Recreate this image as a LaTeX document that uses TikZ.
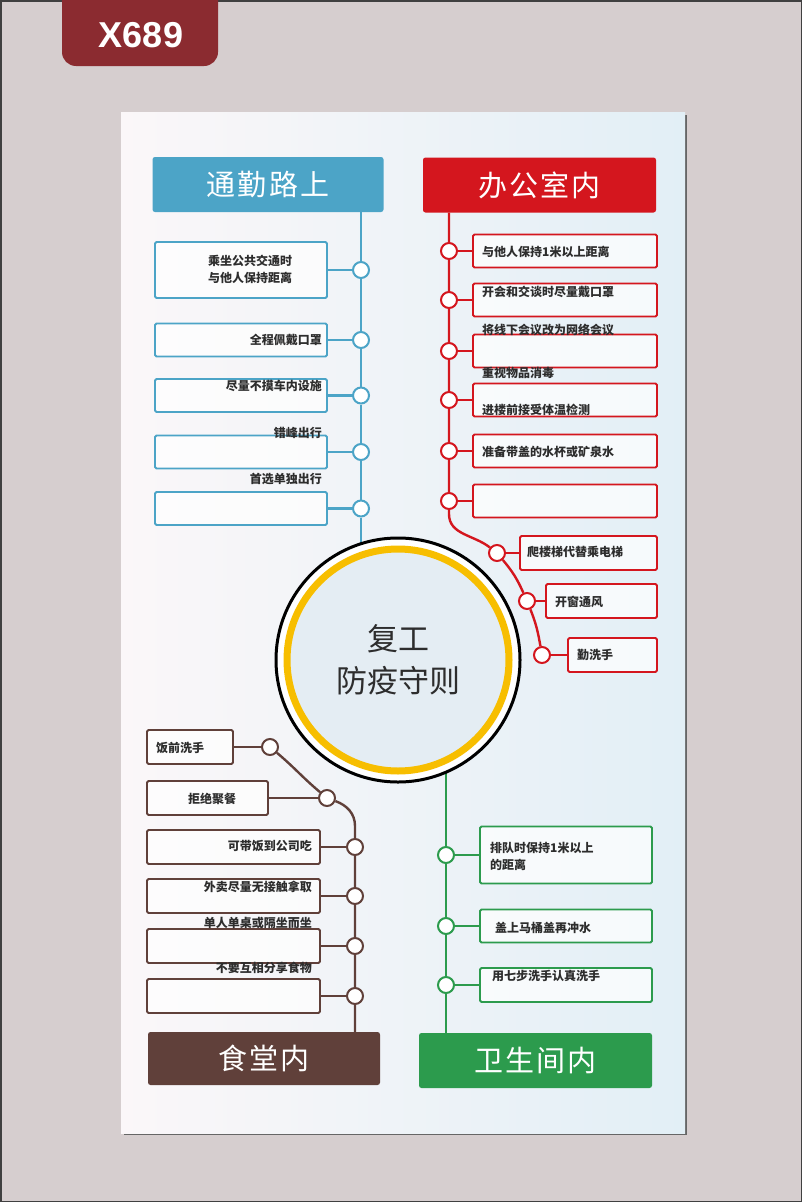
\documentclass[tikz,border=0pt]{standalone}
\usepackage{fontspec}
\setmainfont{Noto Sans}
\newfontfamily\selofont{Liberation Sans}
\newfontfamily\cjk{Noto Sans CJK SC}
\newfontfamily\cjkhead[LetterSpace=8]{Noto Sans CJK SC}
\definecolor{fundo}{RGB}{214,206,207}
\definecolor{selo}{RGB}{139,43,48}
\definecolor{azul}{RGB}{76,164,199}
\definecolor{verm}{RGB}{212,22,30}
\definecolor{marrom}{RGB}{96,64,58}
\definecolor{verde}{RGB}{44,155,77}
\definecolor{ouro}{RGB}{247,190,0}
\definecolor{miolo}{RGB}{228,237,243}
\definecolor{texto}{RGB}{45,45,45}
\definecolor{papelA}{RGB}{251,247,249}
\definecolor{papelB}{RGB}{226,239,246}

\begin{document}
\begin{tikzpicture}[x=1pt, y=-1pt,
  caixa/.style={draw=#1, line width=1.8, fill=white, fill opacity=0.7, rounded corners=1.5pt, inner sep=0, minimum height=33},
  ponto/.style={circle, draw=#1, line width=2, fill=white, minimum size=16, inner sep=0},
  titulo/.style={fill=#1, rounded corners=2.5pt, inner sep=0, minimum height=55, minimum width=232, text=white, font=\cjkhead\fontsize{29}{32}\selectfont},
  item/.style={font=\cjk\bfseries\fontsize{12}{17}\selectfont, text=texto, inner sep=0},
  via/.style={draw=#1, line width=2.4}]
  \useasboundingbox (0,0) rectangle (802,1202);

  % Fundo, moldura e selo do codigo
  \fill[fundo] (0,0) rectangle (802,1202);
  \draw[black!75, line width=1.5] (0.75,0.75) rectangle (801.25,1201.25);
  \fill[selo, rounded corners=14pt] (62,-20) rectangle (218,66);
  \node[font=\selofont\bfseries\fontsize{36}{40}\selectfont, text=white] (codigo) at (141,35) {X689};

  % Cartaz
  \fill[black!60] (124,115) rectangle (687,1135);
  \shade[left color=papelA, right color=papelB] (121,112) rectangle (685,1133);

  % Titulos dos quatro blocos
  \node[titulo=azul, minimum width=231] (titA) at (268,184.5) {通勤路上};
  \node[titulo=verm, minimum width=233] (titB) at (539.5,185) {办公室内};
  \node[titulo=marrom, minimum height=53] (titC) at (264,1058.5) {食堂内};
  \node[titulo=verde, minimum width=233] (titD) at (535.5,1060.5) {卫生间内};

  % Bloco azul: caixa / ponto
  \foreach \yy/\hh [count=\i] in {270/56, 340/33, 395.5/33, 452/33, 508.5/33} {
    \node[caixa=azul, minimum width=172, minimum height=\hh] (ca\i) at (241,\yy) {};
    \node[ponto=azul] (pa\i) at (361,\yy) {};
    \draw[via=azul] (ca\i) -- (pa\i);
  }
  \coordinate (fimA) at (361,552);
  \draw[via=azul] (titA.south -| pa1) -- (pa1) -- (pa2) -- (pa3) -- (pa4) -- (pa5) -- (fimA);
  \node[item, align=center] (ta1) at (250,269) {乘坐公共交通时\\与他人保持距离};
  \foreach \yy/\t [count=\i from 2] in {340/全程佩戴口罩, 386/尽量不摸车内设施, 433/错峰出行, 479/首选单独出行}
    \node[item, anchor=east] (ta\i) at (322,\yy) {\t};

  % Bloco vermelho: seis caixas na vertical, tres no arco
  \foreach \yy [count=\i] in {251,300,351,400,451,501} {
    \node[caixa=verm, minimum width=184] (cr\i) at (565,\yy) {};
    \node[ponto=verm] (pr\i) at (449,\yy) {};
    \draw[via=verm] (pr\i) -- (cr\i);
  }
  \foreach \px/\yy/\cx/\ww [count=\i from 7] in {497/553/588.5/137, 527/601/601.5/111, 542/655/612.5/89} {
    \node[caixa=verm, minimum width=\ww, minimum height=34] (cr\i) at (\cx,\yy) {};
    \node[ponto=verm] (pr\i) at (\px,\yy) {};
    \draw[via=verm] (pr\i) -- (cr\i);
  }
  \coordinate (dobra) at (449,514);
  \draw[via=verm] (titB.south -| pr1) -- (pr1) -- (pr2) -- (pr3) -- (pr4) -- (pr5) -- (pr6) -- (dobra)
    to[out=-90, in=142] (pr7) to[out=-50, in=114] (pr8) to[out=-68, in=100] (pr9);
  \foreach \xx/\yy/\t [count=\i] in {482/252/与他人保持1米以上距离, 482/292/开会和交谈时尽量戴口罩,
      482/330/将线下会议改为网络会议, 482/373/重视物品消毒, 482/410/进楼前接受体温检测,
      482/452/准备带盖的水杯或矿泉水, 527/552/爬楼梯代替乘电梯, 555/602/开窗通风, 577/655/勤洗手}
    \node[item, anchor=west] (tr\i) at (\xx,\yy) {\t};

  % Bloco marrom
  \foreach \px/\yy/\cx/\ww [count=\i] in {270/747/190/86, 327/798/207.5/121, 355/847/233.5/173,
      355/896/233.5/173, 355/946/233.5/173, 355/996/233.5/173} {
    \node[caixa=marrom, minimum width=\ww, minimum height=34] (cf\i) at (\cx,\yy) {};
    \node[ponto=marrom] (pf\i) at (\px,\yy) {};
    \draw[via=marrom] (cf\i) -- (pf\i);
  }
  \coordinate (dobraf) at (355,826);
  \draw[via=marrom] (pf1) to[out=-40, in=140] (pf2) to[out=-20, in=90] (dobraf)
    -- (pf3) -- (pf4) -- (pf5) -- (pf6) -- (titC.north -| pf6);
  \node[item, anchor=west] (tf1) at (156,748) {饭前洗手};
  \node[item] (tf2) at (212,799) {拒绝聚餐};
  \foreach \yy/\t [count=\i from 3] in {846/可带饭到公司吃, 887/外卖尽量无接触拿取, 923/单人单桌或隔坐而坐, 968/不要互相分享食物}
    \node[item, anchor=east] (tf\i) at (312,\yy) {\t};

  % Bloco verde
  \foreach \yy/\hh [count=\i] in {855/57, 926/33, 985/34} {
    \node[caixa=verde, minimum width=172, minimum height=\hh] (cv\i) at (566,\yy) {};
    \node[ponto=verde] (pv\i) at (446,\yy) {};
    \draw[via=verde] (pv\i) -- (cv\i);
  }
  \coordinate (iniV) at (446,765);
  \draw[via=verde] (iniV) -- (pv1) -- (pv2) -- (pv3) -- (titD.north -| pv3);
  \node[item, anchor=west, align=left] (tv1) at (490,856) {排队时保持1米以上\\的距离};
  \node[item, anchor=west] (tv2) at (495,928) {盖上马桶盖再冲水};
  \node[item, anchor=west] (tv3) at (492,976) {用七步洗手认真洗手};

  % Circulo central
  \node[circle, draw=black, line width=3, fill=white, minimum size=244, inner sep=0] (nucleo) at (398,660) {};
  \draw[ouro, line width=7, fill=miolo] (nucleo.center) circle (111);
  \node[font=\cjk\fontsize{31}{42}\selectfont, text=texto, align=center] (lema) at (nucleo.center) {复工\\防疫守则};
\end{tikzpicture}
\end{document}
